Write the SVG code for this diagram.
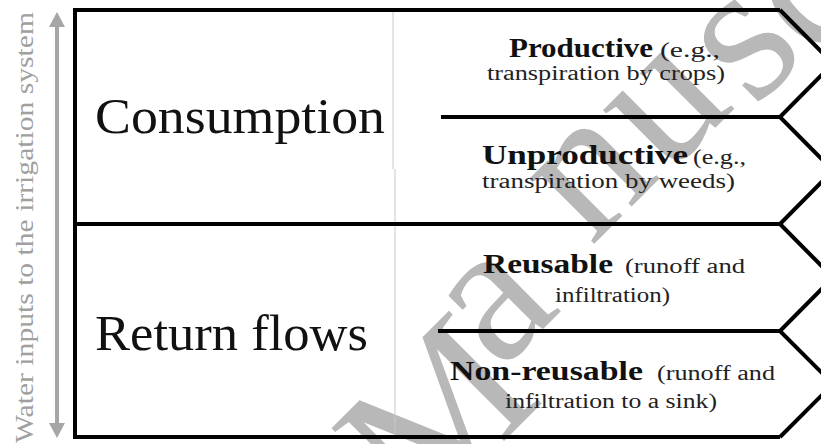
<svg xmlns="http://www.w3.org/2000/svg" width="821" height="444" viewBox="0 0 821 444">
<style>
.ln{fill:none;stroke:#000;stroke-width:4;stroke-linejoin:miter}
.big{font-family:"Liberation Serif",serif;font-size:50px;fill:#111}
.b{font-family:"Liberation Serif",serif;font-size:27px;font-weight:bold;fill:#111}
.r{font-family:"Liberation Serif",serif;font-size:20px;fill:#222}
.side{font-family:"Liberation Serif",serif;font-size:25px;fill:#a0a0a0}
.wm{font-family:"Liberation Serif",serif;font-size:200px;fill:#b8b8b8}
</style>
<rect width="821" height="444" fill="#fff"/>
<g id="watermark">
<text class="wm" x="420 500 591 666 754 815" y="525 372 247 177 109 63" rotate="-45">Manuscript</text>
</g>
<g id="axis">
<line x1="57" y1="24" x2="57" y2="426" stroke="#a6a6a6" stroke-width="4"/>
<polygon points="57,12 49,27 65,27" fill="#a6a6a6"/>
<polygon points="57,438 49,423 65,423" fill="#a6a6a6"/>
<text class="side" transform="translate(33,443) rotate(-90)" textLength="431" lengthAdjust="spacingAndGlyphs">Water inputs to the irrigation system</text>
</g>
<g id="frame">
<line x1="393" y1="12" x2="393" y2="169" stroke="#c8c8c8" stroke-width="1"/>
<line x1="395" y1="169" x2="395" y2="436" stroke="#c8c8c8" stroke-width="1"/>
<polyline class="ln" points="780,10 75,10 75,437 780,437"/>
<line class="ln" x1="75" y1="224" x2="780" y2="224"/>
</g>
<g id="consumption">
<text class="big" x="95" y="133" textLength="290" lengthAdjust="spacingAndGlyphs">Consumption</text>
</g>
<g id="return-flows">
<text class="big" x="95" y="350" textLength="273" lengthAdjust="spacingAndGlyphs">Return flows</text>
</g>
<g id="productive">
<polyline class="ln" points="780,10 833,63.5 780,117"/>
<text class="b" x="509" y="57" textLength="144" lengthAdjust="spacingAndGlyphs">Productive</text>
<text class="r" x="660" y="57" textLength="60" lengthAdjust="spacingAndGlyphs">(e.g.,</text>
<text class="r" x="487" y="80" textLength="238" lengthAdjust="spacingAndGlyphs">transpiration  by crops)</text>
</g>
<g id="unproductive">
<polyline class="ln" points="441,117 780,117 833,170.5 780,224"/>
<text class="b" x="482" y="164" textLength="206" lengthAdjust="spacingAndGlyphs">Unproductive</text>
<text class="r" x="693" y="164" textLength="53" lengthAdjust="spacingAndGlyphs">(e.g.,</text>
<text class="r" x="482" y="188" textLength="253" lengthAdjust="spacingAndGlyphs">transpiration  by weeds)</text>
</g>
<g id="reusable">
<polyline class="ln" points="780,224 833,277.5 780,331"/>
<text class="b" x="483" y="273" textLength="130" lengthAdjust="spacingAndGlyphs">Reusable</text>
<text class="r" x="625" y="273" textLength="120" lengthAdjust="spacingAndGlyphs">(runoff and</text>
<text class="r" x="555" y="302" textLength="115" lengthAdjust="spacingAndGlyphs">infiltration)</text>
</g>
<g id="non-reusable">
<polyline class="ln" points="438,331 780,331 833,384 780,437"/>
<text class="b" x="450" y="380" textLength="193" lengthAdjust="spacingAndGlyphs">Non-reusable</text>
<text class="r" x="657" y="380" textLength="118" lengthAdjust="spacingAndGlyphs">(runoff and</text>
<text class="r" x="505" y="408" textLength="212" lengthAdjust="spacingAndGlyphs">infiltration to a sink)</text>
</g>
</svg>
